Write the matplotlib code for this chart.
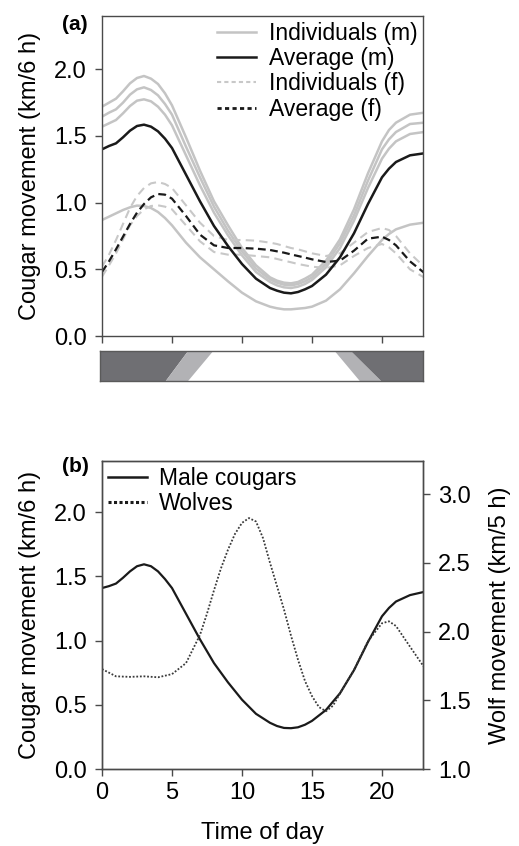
import matplotlib
matplotlib.use("Agg")
import matplotlib.pyplot as plt
from matplotlib.patches import Polygon

plt.rcParams['font.family'] = ['Liberation Sans', 'DejaVu Sans']

# hours of the day at which the curves were read
hours = [0, 0.5, 1, 1.5, 2, 2.5, 3, 3.5, 4, 4.5, 5, 6, 7, 8, 9, 10, 11, 12, 12.5, 13, 13.5,
         14, 14.5, 15, 16, 17, 18, 19, 20, 20.5, 21, 22, 23]

# (a) male cougars, individuals and average (km/6 h)
male_ind = [
    [1.72, 1.75, 1.78, 1.835, 1.895, 1.935, 1.95, 1.93, 1.89, 1.82, 1.73, 1.49, 1.24, 1.01, 0.83, 0.66, 0.53,
     0.44, 0.415, 0.40, 0.395, 0.405, 0.43, 0.46, 0.565, 0.725, 0.95, 1.22, 1.46, 1.545, 1.60, 1.66, 1.675],
    [1.645, 1.675, 1.70, 1.75, 1.81, 1.85, 1.865, 1.845, 1.805, 1.74, 1.66, 1.42, 1.19, 0.97, 0.79, 0.635, 0.505,
     0.425, 0.40, 0.385, 0.38, 0.39, 0.41, 0.44, 0.54, 0.695, 0.905, 1.165, 1.40, 1.475, 1.53, 1.59, 1.60],
    [1.57, 1.595, 1.62, 1.67, 1.725, 1.765, 1.775, 1.76, 1.72, 1.66, 1.58, 1.355, 1.13, 0.925, 0.755, 0.605, 0.48,
     0.405, 0.38, 0.365, 0.36, 0.37, 0.39, 0.42, 0.515, 0.66, 0.865, 1.11, 1.33, 1.405, 1.46, 1.515, 1.53],
    [0.87, 0.895, 0.92, 0.945, 0.965, 0.978, 0.975, 0.96, 0.93, 0.885, 0.83, 0.70, 0.59, 0.50, 0.41, 0.325, 0.26,
     0.22, 0.208, 0.20, 0.20, 0.205, 0.21, 0.22, 0.265, 0.35, 0.47, 0.60, 0.72, 0.765, 0.80, 0.835, 0.85],
]
male_avg = [1.40, 1.425, 1.445, 1.49, 1.54, 1.575, 1.585, 1.57, 1.535, 1.48, 1.41, 1.21, 1.01, 0.825, 0.675, 0.54, 0.43,
            0.36, 0.34, 0.325, 0.32, 0.33, 0.35, 0.375, 0.46, 0.59, 0.77, 0.99, 1.19, 1.255, 1.305, 1.355, 1.37]

# (a) female cougars
female_ind = [
    [0.52, 0.61, 0.72, 0.84, 0.96, 1.05, 1.11, 1.145, 1.155, 1.14, 1.11, 0.98, 0.85, 0.75, 0.72, 0.72, 0.715,
     0.70, 0.69, 0.675, 0.66, 0.65, 0.635, 0.62, 0.60, 0.62, 0.70, 0.78, 0.81, 0.795, 0.75, 0.62, 0.52],
    [0.445, 0.53, 0.62, 0.725, 0.83, 0.90, 0.95, 0.975, 0.98, 0.97, 0.95, 0.83, 0.71, 0.63, 0.61, 0.61, 0.60,
     0.59, 0.578, 0.565, 0.553, 0.54, 0.53, 0.52, 0.51, 0.53, 0.60, 0.66, 0.69, 0.665, 0.62, 0.50, 0.44],
]
female_avg = [0.48, 0.56, 0.65, 0.745, 0.84, 0.925, 0.99, 1.04, 1.065, 1.06, 1.03, 0.90, 0.76, 0.68, 0.66, 0.66, 0.655,
              0.645, 0.635, 0.625, 0.612, 0.60, 0.588, 0.575, 0.555, 0.565, 0.64, 0.73, 0.745, 0.72, 0.68, 0.56, 0.475]

# (b) male cougars vs wolves (km/5 h)
cougar_b = [1.41, 1.425, 1.445, 1.49, 1.54, 1.58, 1.595, 1.58, 1.54, 1.48, 1.41, 1.21, 1.01, 0.825, 0.675, 0.54, 0.43,
            0.36, 0.335, 0.32, 0.318, 0.325, 0.345, 0.375, 0.46, 0.59, 0.77, 0.99, 1.19, 1.255, 1.305, 1.355, 1.38]
wolf_hours = [0, 1, 2, 3, 4, 5, 6, 7, 7.5, 8, 8.5, 9, 9.5, 10, 10.5, 11, 11.5, 12, 12.5, 13, 13.5, 14, 14.5,
              15, 15.5, 16, 16.5, 17, 18, 19, 20, 20.5, 21, 22, 23]
wolves = [1.727, 1.674, 1.67, 1.674, 1.667, 1.69, 1.77, 1.975, 2.13, 2.30, 2.46, 2.595, 2.71, 2.79, 2.825, 2.80, 2.68,
          2.50, 2.33, 2.16, 1.97, 1.795, 1.64, 1.53, 1.45, 1.42, 1.46, 1.55, 1.72, 1.93, 2.06, 2.074, 2.04, 1.89, 1.742]

# day / twilight / night bar: twilight start/end hours at bottom and top of the bar
dawn_bottom = (4.5, 6.1)
dawn_top = (6.1, 7.9)
dusk_top = (16.6, 17.8)
dusk_bottom = (18.4, 19.9)

W, H = 519, 846
fig = plt.figure(figsize=(W / 100, H / 100), dpi=100)

def box(l, r, t, b):
    return [l / W, (H - b) / H, (r - l) / W, (b - t) / H]

spine_c = '#4a4a4a'
fs = 17
lfs = 17
legfs = 16.5
xmax = 22.93

def style(ax):
    for s in ax.spines.values():
        s.set_color(spine_c)
        s.set_linewidth(1.0)
    ax.tick_params(axis='y', direction='out', length=5, width=1, color=spine_c, labelsize=fs, pad=6)
    ax.tick_params(axis='x', direction='out', length=5, width=1, color=spine_c, labelsize=fs, pad=4)

# ---- panel (a)
ax1 = fig.add_axes(box(102, 423, 16, 336))
for y in male_ind:
    ax1.plot(hours, y, color='#c4c4c4', lw=1.8)
for y in female_ind:
    ax1.plot(hours, y, color='#c8c8c8', lw=1.5, ls=(0, (4, 2.5)))
ax1.plot(hours, male_avg, color='#1a1a1a', lw=1.8)
ax1.plot(hours, female_avg, color='#1a1a1a', lw=1.6, ls=(0, (3.5, 2)))
ax1.set_xlim(0, xmax)
ax1.set_ylim(0, 2.4)
ax1.set_xticks([0, 5, 10, 15, 20])
ax1.set_xticklabels([])
ax1.set_yticks([0, 0.5, 1.0, 1.5, 2.0])
ax1.set_yticklabels(['0.0', '0.5', '1.0', '1.5', '2.0'])
ax1.set_ylabel('Cougar movement (km/6 h)', fontsize=lfs, labelpad=9)
style(ax1)

h1, = ax1.plot([], [], color='#c4c4c4', lw=1.8)
h2, = ax1.plot([], [], color='#1a1a1a', lw=1.8)
h3, = ax1.plot([], [], color='#c8c8c8', lw=1.5, ls=(0, (2, 1.5)))
h4, = ax1.plot([], [], color='#1a1a1a', lw=2.0, ls=(0, (1.5, 1.2)))
ax1.legend([h1, h2, h3, h4], ['Individuals (m)', 'Average (m)', 'Individuals (f)', 'Average (f)'],
           loc='upper right', frameon=False, fontsize=legfs, handlelength=1.7, handletextpad=0.55,
           labelspacing=0.1, borderaxespad=0.15, borderpad=0.1)
fig.text(62 / W, 1 - 24 / H, '(a)', fontsize=15, fontweight='bold', va='center', ha='left')

# ---- day/night bar
axb = fig.add_axes(box(99.5, 423, 351, 381))
x0 = -3.5 / 14
axb.set_xlim(x0, xmax)
axb.set_ylim(0, 1)
dark = '#6f6f73'
light = '#b2b2b5'
axb.add_patch(Polygon([(x0, 0), (dawn_bottom[0], 0), (dawn_top[0], 1), (x0, 1)], closed=True, fc=dark, ec='none'))
axb.add_patch(Polygon([(dawn_bottom[0], 0), (dawn_bottom[1], 0), (dawn_top[1], 1), (dawn_top[0], 1)], closed=True, fc=light, ec='none'))
axb.add_patch(Polygon([(dusk_top[0], 1), (dusk_top[1], 1), (dusk_bottom[1], 0), (dusk_bottom[0], 0)], closed=True, fc=light, ec='none'))
axb.add_patch(Polygon([(dusk_top[1], 1), (xmax, 1), (xmax, 0), (dusk_bottom[1], 0)], closed=True, fc=dark, ec='none'))
axb.set_xticks([])
axb.set_yticks([])
for s in axb.spines.values():
    s.set_color('#5a5a5a')
    s.set_linewidth(1.0)

# ---- panel (b)
ax2 = fig.add_axes(box(102, 423, 461, 769))
ax2.plot(hours, cougar_b, color='#1a1a1a', lw=1.6)
ax2.set_xlim(0, xmax)
ax2.set_ylim(0, 2.4)
ax2.set_xticks([0, 5, 10, 15, 20])
ax2.set_yticks([0, 0.5, 1.0, 1.5, 2.0])
ax2.set_yticklabels(['0.0', '0.5', '1.0', '1.5', '2.0'])
ax2.set_ylabel('Cougar movement (km/6 h)', fontsize=lfs, labelpad=9)
ax2.set_xlabel('Time of day', fontsize=lfs, labelpad=13.5)
style(ax2)

ax3 = ax2.twinx()
ax3.plot(wolf_hours, wolves, color='#3a3a3a', lw=1.3, ls=(0, (1, 1)))
ax3.set_ylim(1.0, 3.24)
ax3.set_yticks([1.0, 1.5, 2.0, 2.5, 3.0])
ax3.set_yticklabels(['1.0', '1.5', '2.0', '2.5', '3.0'])
ax3.set_ylabel('Wolf movement (km/5 h)', fontsize=lfs, labelpad=13)
style(ax3)

hc, = ax2.plot([], [], color='#1a1a1a', lw=1.8)
hw, = ax2.plot([], [], color='#1a1a1a', lw=2.2, ls=(0, (1, 0.8)))
ax2.legend([hc, hw], ['Male cougars', 'Wolves'], loc='upper left', frameon=False, fontsize=legfs,
           handlelength=1.7, handletextpad=0.55, labelspacing=0.1, borderaxespad=0.15, borderpad=0.1)
fig.text(62 / W, 1 - 466 / H, '(b)', fontsize=15, fontweight='bold', va='center', ha='left')

fig.savefig('out.png', dpi=100)
